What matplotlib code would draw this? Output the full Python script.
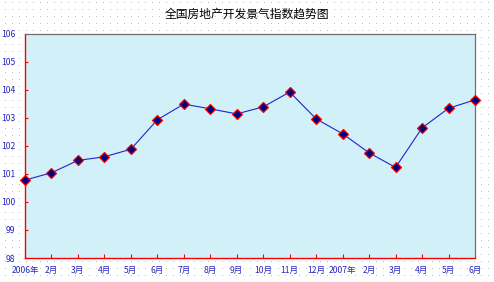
import matplotlib
matplotlib.use("Agg")
import matplotlib.pyplot as plt
import numpy as np

plt.rcParams['font.family'] = ['Noto Sans CJK SC', 'DejaVu Sans']

# 数据
months = ['2006年', '2月', '3月', '4月', '5月', '6月', '7月', '8月', '9月',
          '10月', '11月', '12月', '2007年', '2月', '3月', '4月', '5月', '6月']
index_values = [100.78, 101.04, 101.48, 101.61, 101.88, 102.93, 103.49, 103.32,
                103.14, 103.39, 103.92, 102.96, 102.43, 101.75, 101.23, 102.64,
                103.34, 103.64]
y_ticks = [98, 99, 100, 101, 102, 103, 104, 105, 106]

label_color = '#2828c0'

fig = plt.figure(figsize=(4.94, 2.82), dpi=100)
fig.patch.set_facecolor('white')

# 背景点阵
bg = fig.add_axes([0, 0, 1, 1], zorder=-1)
bg.set_xlim(0, 494)
bg.set_ylim(282, 0)
bg.axis('off')
gx, gy = np.meshgrid(np.arange(5, 494, 7), np.arange(2, 282, 7))
bg.scatter(gx.ravel(), gy.ravel(), s=0.6, color='#b8b8b8', linewidths=0)

ax = fig.add_axes([25 / 494, 1 - 258 / 282, 450 / 494, (258 - 33.7) / 282])
ax.set_facecolor('#d2f0f8')

x = np.arange(len(months))
ax.plot(x, index_values, color='#2323d0', linewidth=0.8,
        marker='D', markersize=5, markerfacecolor='#000080',
        markeredgecolor='#ff0000', markeredgewidth=0.9, clip_on=False, zorder=3)

ax.set_xlim(0, len(months) - 1)
ax.set_ylim(98, 106)
ax.set_xticks(x)
ax.set_xticklabels(months)
ax.set_yticks(y_ticks)
ax.set_yticklabels([str(v) for v in y_ticks])

ax.tick_params(axis='both', direction='in', colors='#ff0000', length=3, width=0.8,
               labelsize=6.2, labelcolor=label_color)
ax.tick_params(axis='x', pad=6)
ax.tick_params(axis='y', pad=7, length=2)

for side in ['left', 'bottom']:
    ax.spines[side].set_color('#ff0000')
    ax.spines[side].set_linewidth(1.0)
for side in ['top', 'right']:
    ax.spines[side].set_color('#707070')
    ax.spines[side].set_linewidth(0.9)

fig.text(0.5, 1 - 14 / 282, '全国房地产开发景气指数趋势图', ha='center', va='center',
         fontsize=8.5, color='black')

fig.savefig('out.png', dpi=100)
